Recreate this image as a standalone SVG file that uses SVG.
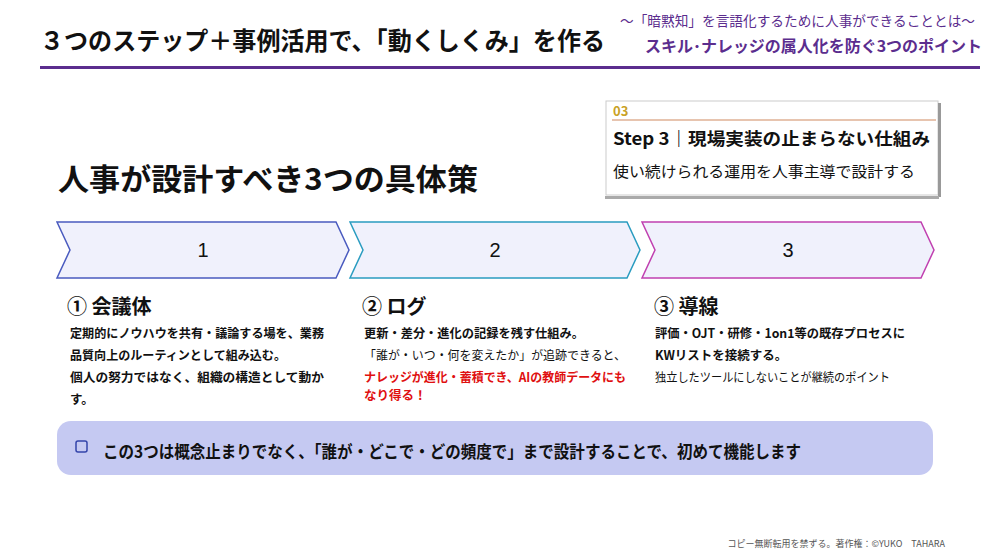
<svg xmlns="http://www.w3.org/2000/svg" width="990" height="557" viewBox="0 0 990 557">
<style>
text{font-family:"Noto Sans CJK JP","Noto Sans",sans-serif;fill:#111}
.b{font-weight:bold}
.chev{fill:#f0f1fc;stroke-width:1.5}
.num{font-size:20px;text-anchor:middle;font-family:"Liberation Sans",sans-serif}
.h{font-size:20px;font-weight:bold}
.t{font-size:12.5px}
</style>
<rect width="990" height="557" fill="#fff"/>
<g id="header">
<text x="40" y="50" class="b" font-size="25" textLength="565" lengthAdjust="spacingAndGlyphs">３つのステップ＋事例活用で、「動くしくみ」を作る</text>
<text x="620" y="26" font-size="14" textLength="355" lengthAdjust="spacingAndGlyphs" style="fill:#5b2d8e">～「暗黙知」を言語化するために人事ができることとは～</text>
<text x="645" y="52" font-size="16" class="b" textLength="337" lengthAdjust="spacingAndGlyphs" style="fill:#5b2d8e">スキル･ナレッジの属人化を防ぐ3つのポイント</text>
<rect x="40" y="66" width="940" height="3" fill="#5b2d8e"/>
</g>
<g id="stepcard">
<rect x="606" y="101" width="332" height="94" fill="#fff" stroke="#ccc"/>
<rect x="938" y="103" width="3" height="94" fill="#999"/>
<rect x="605" y="196" width="334" height="3" fill="#aaa"/>
<text x="613" y="116" font-size="13" class="b" style="fill:#c9a227">03</text>
<line x1="612" y1="120" x2="936" y2="120" stroke="#d08a60" stroke-width="1.2"/>
<text x="613" y="145" font-size="17" class="b" textLength="317" lengthAdjust="spacingAndGlyphs">Step 3｜現場実装の止まらない仕組み</text>
<text x="613" y="177" font-size="15" textLength="302" lengthAdjust="spacingAndGlyphs">使い続けられる運用を人事主導で設計する</text>
</g>
<text id="title" x="58" y="190" font-size="30" class="b" textLength="420" lengthAdjust="spacingAndGlyphs">人事が設計すべき3つの具体策</text>
<g id="chev1"><path class="chev" stroke="#4a5bbf" d="M57,222 H336 L349,250 L336,278 H57 L70,250 Z"/><text class="num" x="203" y="257">1</text></g>
<g id="chev2"><path class="chev" stroke="#2a9cc0" d="M350,222 H627 L640,250 L627,278 H350 L363,250 Z"/><text class="num" x="495" y="257">2</text></g>
<g id="chev3"><path class="chev" stroke="#c040b0" d="M642,222 H921 L934,250 L921,278 H642 L655,250 Z"/><text class="num" x="788" y="257">3</text></g>
<g id="col1">
<text x="67" y="314" class="h">① 会議体</text>
<text x="70" y="338" class="t b" textLength="254" lengthAdjust="spacingAndGlyphs">定期的にノウハウを共有・議論する場を、業務</text>
<text x="70" y="360" class="t b" textLength="216" lengthAdjust="spacingAndGlyphs">品質向上のルーティンとして組み込む。</text>
<text x="70" y="382" class="t b" textLength="254" lengthAdjust="spacingAndGlyphs">個人の努力ではなく、組織の構造として動か</text>
<text x="70" y="404" class="t b">す。</text>
</g>
<g id="col2">
<text x="364" y="338" class="t b" textLength="220" lengthAdjust="spacingAndGlyphs">更新・差分・進化の記録を残す仕組み。</text>
<text x="362" y="314" class="h">② ログ</text>
<text x="364" y="360" class="t" textLength="262" lengthAdjust="spacingAndGlyphs">「誰が・いつ・何を変えたか」が追跡できると、</text>
<text x="364" y="382" class="t b" textLength="262" lengthAdjust="spacingAndGlyphs" style="fill:#e01010">ナレッジが進化・蓄積でき、AIの教師データにも</text>
<text x="364" y="400" class="t b" style="fill:#e01010">なり得る！</text>
</g>
<g id="col3">
<text x="654" y="314" class="h">③ 導線</text>
<text x="655" y="338" class="t b" textLength="250" lengthAdjust="spacingAndGlyphs">評価・OJT・研修・1on1等の既存プロセスに</text>
<text x="655" y="360" class="t b">KWリストを接続する。</text>
<text x="655" y="382" class="t" textLength="235" lengthAdjust="spacingAndGlyphs">独立したツールにしないことが継続のポイント</text>
</g>
<g id="banner">
<rect x="57" y="421" width="876" height="54" rx="14" fill="#c5c9f2"/>
<rect x="76" y="441" width="11" height="11" rx="2" fill="none" stroke="#3344aa" stroke-width="1.5"/>
<text x="103" y="458" font-size="17" class="b" textLength="698" lengthAdjust="spacingAndGlyphs">この3つは概念止まりでなく、「誰が・どこで・どの頻度で」まで設計することで、初めて機能します</text>
</g>
<text x="945" y="547" font-size="9" text-anchor="end" style="fill:#555">コピー無断転用を禁ずる。著作権：©YUKO　TAHARA</text>
</svg>
